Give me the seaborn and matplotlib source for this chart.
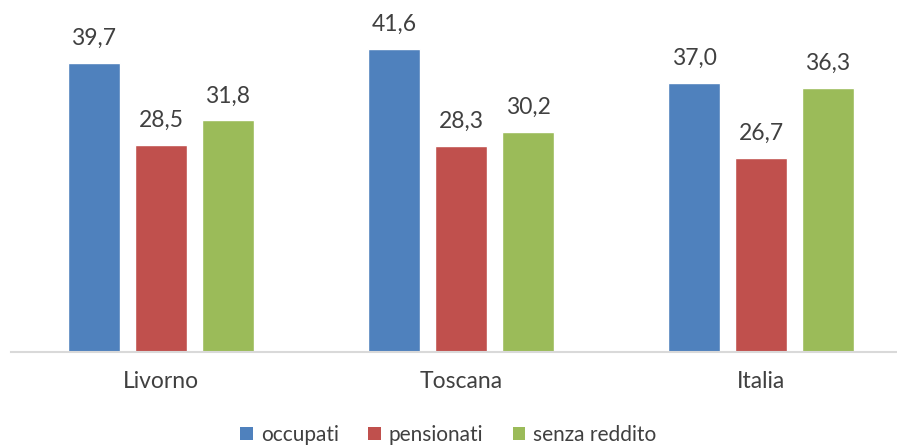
import matplotlib
matplotlib.use("Agg")
import matplotlib.pyplot as plt
import seaborn as sns
import pandas as pd
from matplotlib.patches import Patch

categories = ["Livorno", "Toscana", "Italia"]
series = ["occupati", "pensionati", "senza reddito"]
occupati = [39.7, 41.6, 37.0]
pensionati = [28.5, 28.3, 26.7]
senza_reddito = [31.8, 30.2, 36.3]
colors = ["#4F81BD", "#C0504D", "#9BBB59"]

rows = []
for name, vals in zip(series, [occupati, pensionati, senza_reddito]):
    for c, v in zip(categories, vals):
        rows.append({"area": c, "serie": name, "valore": v})
df = pd.DataFrame(rows)

sns.set_theme(style="white")
plt.rcParams["font.family"] = ["Lato", "DejaVu Sans"]
txt = "#404040"
fs = 16.5

fig = plt.figure(figsize=(8.97, 4.45), dpi=100)
W, H = 897, 445
x0, x1 = 11, 911
ax = fig.add_axes([x0 / W, (H - 352) / H, (x1 - x0) / W, 352 / H])

sns.barplot(data=df, x="area", y="valore", hue="serie", order=categories,
            hue_order=series, palette=colors, width=0.67, gap=0.225,
            saturation=1, ax=ax, legend=False, errorbar=None)

ax.set_xlim(-0.5, 2.5)
ax.set_ylim(0, 352 / 7.28)
for s in ["top", "right", "left"]:
    ax.spines[s].set_visible(False)
ax.spines["bottom"].set_color("#D9D9D9")
ax.spines["bottom"].set_linewidth(1.5)
ax.set_yticks([])
ax.set_xlabel("")
ax.set_ylabel("")
ax.tick_params(axis="x", length=0, pad=14, labelsize=fs, labelcolor=txt)

for cont in ax.containers:
    labels = [f"{b.get_height():.1f}".replace(".", ",") for b in cont]
    ax.bar_label(cont, labels=labels, padding=10, fontsize=fs, color=txt)

handles = [Patch(facecolor=c, edgecolor="none") for c in colors]
fig.legend(handles, series, loc="center", bbox_to_anchor=(0.5, 10 / H),
           ncol=3, frameon=False, fontsize=15, labelcolor=txt,
           handlelength=0.6, handleheight=0.6, handletextpad=0.4,
           columnspacing=1.4, borderpad=0)

fig.savefig("out.png", dpi=100)
